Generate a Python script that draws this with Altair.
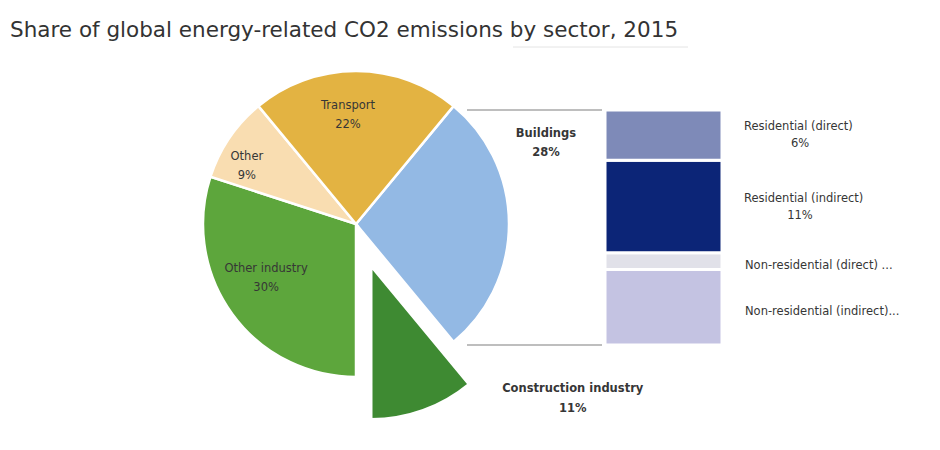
import math
import altair as alt
import pandas as pd

# ---------------- data ----------------
sectors = ["Buildings", "Construction industry", "Other industry", "Other", "Transport"]
shares = [28, 11, 30, 9, 22]
pie_colors = ["#93B9E4", "#3E8A32", "#5DA63C", "#F9DDB1", "#E3B342"]

sub_cats = ["Non-residential (indirect)", "Non-residential (direct)",
            "Residential (indirect)", "Residential (direct)"]
sub_shares = [9, 2, 11, 6]
sub_names = ["Non-residential (indirect)...", "Non-residential (direct) ...",
             "Residential (indirect)", "Residential (direct)"]
sub_show_pct = [False, False, True, True]
sub_colors = ["#C4C3E2", "#E1E1E9", "#0C2577", "#7E8AB8"]

title_text = "Share of global energy-related CO2 emissions by sector, 2015"

# ---------------- tables ----------------
total = sum(shares)
starts, ends = [], []
acc = 0
for s in shares:
    starts.append(acc)
    acc += s
    ends.append(acc)
pie_df = pd.DataFrame({
    "sector": sectors,
    "share": shares,
    "start": starts,
    "end": ends,
    "mid": [(a + b) / 2 for a, b in zip(starts, ends)],
    "label": [f"{n}\n{s}%" for n, s in zip(sectors, shares)],
})

b0, b1 = [], []
acc = 0
for s in sub_shares:
    b0.append(acc)
    acc += s
    b1.append(acc)
bar_df = pd.DataFrame({
    "cat": sub_cats,
    "share": sub_shares,
    "y0": b0,
    "y1": b1,
    "ymid": [(a + b) / 2 for a, b in zip(b0, b1)],
    "name": sub_names,
    "pct": [f"{s}%" for s in sub_shares],
    "show": sub_show_pct,
})
edge_df = pd.DataFrame({"v": [0, sum(sub_shares)]})
deco_df = pd.DataFrame({"k": [0]})

# ---------------- layout / style ----------------
CX, CY, R = 356, 174, 153
start_angle = math.pi / 2 - (shares[0] / total) * math.pi  # Buildings centred on the right
theta_scale = alt.Scale(domain=[0, total], range=[start_angle, start_angle + 2 * math.pi])
y_scale = alt.Scale(domain=[0, sum(sub_shares)], range=[295, 60])

ci = sectors.index("Construction industry")
mid_c = start_angle + pie_df["mid"][ci] / total * 2 * math.pi
EXPLODE = 45
ex_dx, ex_dy = EXPLODE * math.sin(mid_c), -EXPLODE * math.cos(mid_c)

color_scale = alt.Scale(domain=sectors, range=pie_colors)
FONT = "DejaVu Sans"
TXT = "#363636"

base_pie = alt.Chart(pie_df).encode(x=alt.value(CX), y=alt.value(CY))

arcs_main = base_pie.transform_filter(
    alt.datum.sector != "Construction industry"
).mark_arc(outerRadius=R, stroke="white", strokeWidth=2.5).encode(
    theta=alt.Theta("start:Q", scale=theta_scale, stack=None),
    theta2="end:Q",
    color=alt.Color("sector:N", scale=color_scale, legend=None),
)

arc_con = base_pie.transform_filter(
    alt.datum.sector == "Construction industry"
).mark_arc(outerRadius=R, stroke="white", strokeWidth=2.5,
           xOffset=ex_dx, yOffset=ex_dy).encode(
    theta=alt.Theta("start:Q", scale=theta_scale, stack=None),
    theta2="end:Q",
    color=alt.Color("sector:N", scale=color_scale, legend=None),
)


def slice_label(sector, radius, dx, dy, bold=False, lh=18):
    return base_pie.transform_filter(alt.datum.sector == sector).mark_text(
        radius=radius, dx=dx, dy=dy, fontSize=11.5, font=FONT,
        fontWeight="bold" if bold else "normal", color=TXT,
        lineBreak="\n", baseline="middle", lineHeight=lh,
    ).encode(
        theta=alt.Theta("mid:Q", scale=theta_scale, stack=None),
        text="label:N",
    )


lab_transport = slice_label("Transport", 110, -8, -8, lh=19)
lab_other = slice_label("Other", 115, -14, -2, lh=19)
lab_oind = slice_label("Other industry", 100, -9, -14, lh=19)
lab_bld = slice_label("Buildings", 190, 0, -90, bold=True, lh=19)
lab_con = slice_label("Construction industry", 200, 149, -23, bold=True, lh=20)

bars = alt.Chart(bar_df).mark_rect(stroke="white", strokeWidth=3).encode(
    x=alt.value(605), x2=alt.value(722),
    y=alt.Y("y0:Q", scale=y_scale, axis=None),
    y2="y1:Q",
    fill=alt.Fill("cat:N", scale=alt.Scale(domain=sub_cats, range=sub_colors), legend=None),
)

connectors = alt.Chart(edge_df).mark_rule(color="#A8A8A8", strokeWidth=1.5).encode(
    y=alt.Y("v:Q", scale=y_scale, axis=None),
    x=alt.value(467), x2=alt.value(602),
)

title_rule = alt.Chart(deco_df).mark_rule(color="#E4E4E4", strokeWidth=1).encode(
    x=alt.value(513), x2=alt.value(688), y=alt.value(-3),
)

res_names = alt.Chart(bar_df).transform_filter(alt.datum.show).mark_text(
    align="left", baseline="middle", dy=-8, fontSize=11.5, font=FONT, color=TXT
).encode(x=alt.value(744), y=alt.Y("ymid:Q", scale=y_scale, axis=None), text="name:N")

res_pcts = alt.Chart(bar_df).transform_filter(alt.datum.show).mark_text(
    align="center", baseline="middle", dy=9, fontSize=11.5, font=FONT, color=TXT
).encode(x=alt.value(800), y=alt.Y("ymid:Q", scale=y_scale, axis=None), text="pct:N")

nonres_names = alt.Chart(bar_df).transform_filter(~alt.datum.show).mark_text(
    align="left", baseline="middle", dy=5, fontSize=11.5, font=FONT, color=TXT
).encode(x=alt.value(745), y=alt.Y("ymid:Q", scale=y_scale, axis=None), text="name:N")

chart = alt.layer(
    title_rule, connectors, arcs_main, arc_con,
    lab_transport, lab_other, lab_oind, lab_bld, lab_con,
    bars, res_names, res_pcts, nonres_names,
).resolve_scale(
    color="independent", fill="independent"
).properties(
    width=940, height=400,
    autosize=alt.AutoSizeParams(type="none"),
    padding={"left": 0, "top": 50, "right": 0, "bottom": 0},
    title=alt.TitleParams(
        title_text, anchor="start", frame="group", dx=10, offset=5,
        fontSize=21.5, font="DejaVu Sans", fontWeight="normal", color="#333333",
    ),
).configure(background="white").configure_view(strokeWidth=0, stroke="transparent")

chart.save("out.html", embed_options={"renderer": "svg", "actions": False})
